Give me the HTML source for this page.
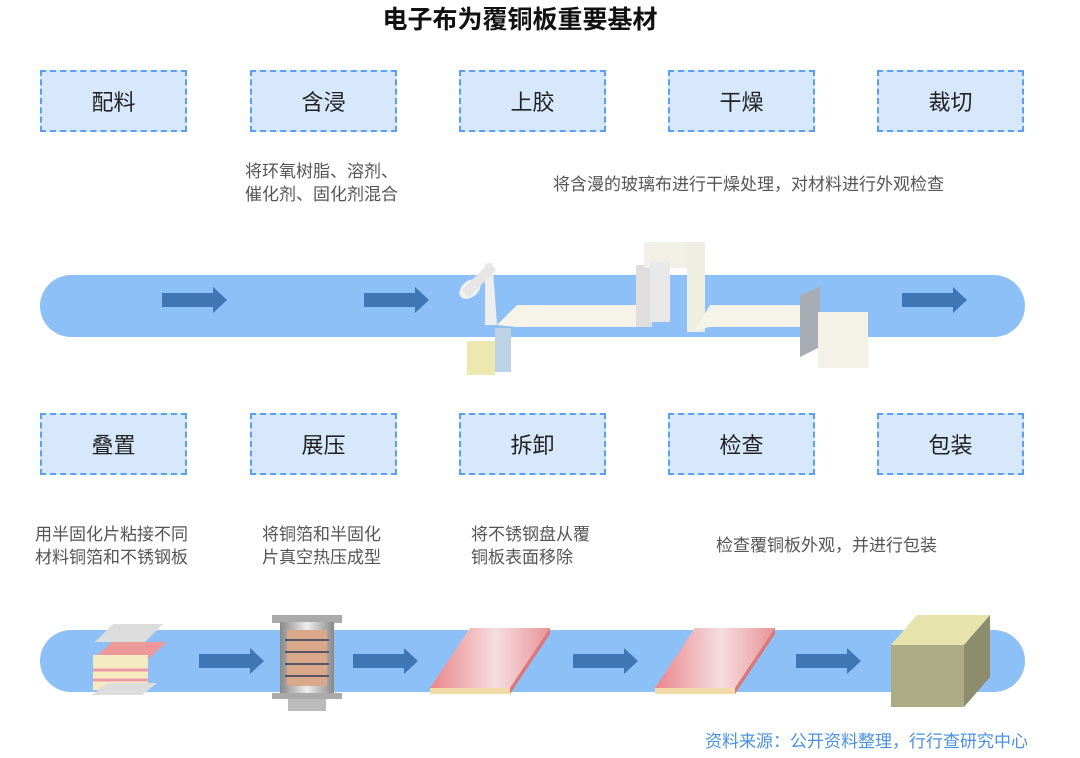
<!DOCTYPE html>
<html><head><meta charset="utf-8"><style>
*{margin:0;padding:0;box-sizing:border-box}
body{width:1080px;height:758px;background:#fff;position:relative;overflow:hidden;font-family:"Liberation Sans","Noto Sans CJK SC",sans-serif}
.t{position:absolute;left:0;width:1040px;top:3px;text-align:center;font-size:25px;font-weight:bold;color:#111;line-height:34px}
.b{position:absolute;width:147px;height:62px;background:#d8e8fc;border:2.5px dashed #5b9ff0;display:flex;align-items:center;justify-content:center;font-size:22px;color:#222}
.d{position:absolute;font-size:17px;color:#555;line-height:23px;white-space:nowrap}
.src{position:absolute;left:705px;top:730px;font-size:17px;line-height:23px;color:#4a90e2;white-space:nowrap}
svg{position:absolute;left:0;top:0}
</style></head><body>
<div class="t">电子布为覆铜板重要基材</div>
<div class="b" style="left:40px;top:70px">配料</div>
<div class="b" style="left:250px;top:70px">含浸</div>
<div class="b" style="left:459px;top:70px">上胶</div>
<div class="b" style="left:668px;top:70px">干燥</div>
<div class="b" style="left:877px;top:70px">裁切</div>
<div class="b" style="left:40px;top:413px">叠置</div>
<div class="b" style="left:250px;top:413px">展压</div>
<div class="b" style="left:459px;top:413px">拆卸</div>
<div class="b" style="left:668px;top:413px">检查</div>
<div class="b" style="left:877px;top:413px">包装</div>
<div class="d" style="left:245px;top:160px">将环氧树脂、溶剂、<br>催化剂、固化剂混合</div>
<div class="d" style="left:553px;top:173px">将含漫的玻璃布进行干燥处理，对材料进行外观检查</div>
<div class="d" style="left:35px;top:523px">用半固化片粘接不同<br>材料铜箔和不锈钢板</div>
<div class="d" style="left:262px;top:523px">将铜箔和半固化<br>片真空热压成型</div>
<div class="d" style="left:471px;top:523px">将不锈钢盘从覆<br>铜板表面移除</div>
<div class="d" style="left:716px;top:534px">检查覆铜板外观，并进行包装</div>
<svg width="1080" height="758">
<defs>
<linearGradient id="cu" x1="0" x2="1"><stop offset="0" stop-color="#e8868a"/><stop offset=".55" stop-color="#f6dde0"/><stop offset="1" stop-color="#e79497"/></linearGradient>
<linearGradient id="mt" x1="0" x2="1"><stop offset="0" stop-color="#888"/><stop offset=".5" stop-color="#eee"/><stop offset="1" stop-color="#888"/></linearGradient>
</defs>
<rect x="40" y="275" width="985" height="62" rx="31" fill="#8ec0f8"/>
<rect x="40" y="630" width="985" height="62" rx="31" fill="#8ec0f8"/>
<g fill="#3f76b3">
<path d="M162 293h51v-6l14 13-14 13v-6h-51z"/>
<path d="M364 293h51v-6l14 13-14 13v-6h-51z"/>
<path d="M902 293h51v-6l14 13-14 13v-6h-51z"/>
<path d="M199 654h51v-6l14 13-14 13v-6h-51z"/>
<path d="M353 654h51v-6l14 13-14 13v-6h-51z"/>
<path d="M573 654h51v-6l14 13-14 13v-6h-51z"/>
<path d="M796 654h51v-6l14 13-14 13v-6h-51z"/>
</g>
<path d="M485 262l8 8 4 55-12 0z" fill="#eee"/>
<ellipse cx="470" cy="289" rx="12" ry="8" fill="#f3f3f3" transform="rotate(-40 470 289)"/>
<path d="M462 290l28-28 6 8-28 28z" fill="#e6e6e6"/>
<rect x="467" y="341" width="28" height="34" fill="#ede7b0"/>
<rect x="495" y="328" width="16" height="44" fill="#bcd3e6"/>
<path d="M497 325l20-20h120v22h-120z" fill="#f6f4e8"/>
<rect x="636" y="265" width="16" height="62" fill="#e2dddd"/>
<rect x="644" y="242" width="60" height="26" fill="#f2f0e6"/>
<rect x="650" y="262" width="20" height="60" fill="#e8e8e8"/>
<rect x="687" y="242" width="18" height="90" fill="#efeee2"/>
<path d="M695 330l15-25h100v22h-100z" fill="#f6f4e8"/>
<path d="M800 295l20-8v60l-20 10z" fill="#a8adb5"/>
<rect x="818" y="312" width="50" height="56" fill="#f4f2e6"/>
<path d="M95 642l18-18h50l-18 18z" fill="#ddd"/>
<path d="M92 660l20-18h55l-20 18z" fill="#e99"/>
<rect x="93" y="655" width="55" height="35" fill="#f4ecc0"/>
<path d="M93 670h55M93 680h55" stroke="#e9a" stroke-width="3"/>
<path d="M92 695l15-12h50l-15 12z" fill="#ddd"/>
<rect x="272" y="615" width="70" height="8" fill="#aaa"/>
<rect x="280" y="622" width="54" height="72" fill="url(#mt)"/>
<rect x="287" y="630" width="40" height="56" fill="#d9a88a"/>
<path d="M285 640h44M285 652h44M285 664h44M285 676h44" stroke="#556" stroke-width="2"/>
<rect x="272" y="693" width="70" height="6" fill="#aaa"/>
<rect x="288" y="699" width="38" height="12" fill="#bbb"/>
<path d="M470 628h80l-40 60h-80z" fill="url(#cu)"/>
<path d="M430 688h80v6h-80z" fill="#f2dba8"/>
<path d="M510 688l40-60v6l-40 60z" fill="#d77"/>
<path d="M695 628h80l-40 60h-80z" fill="url(#cu)"/>
<path d="M655 688h80v6h-80z" fill="#f2dba8"/>
<path d="M735 688l40-60v6l-40 60z" fill="#d77"/>
<path d="M891 645l26-30h73l-26 30z" fill="#e6e4ac"/>
<rect x="891" y="645" width="73" height="62" fill="#aeac86"/>
<path d="M964 645l26-30v62l-26 30z" fill="#8d8c6d"/>
</svg>
<div class="src">资料来源：公开资料整理，行行查研究中心</div>
</body></html>
